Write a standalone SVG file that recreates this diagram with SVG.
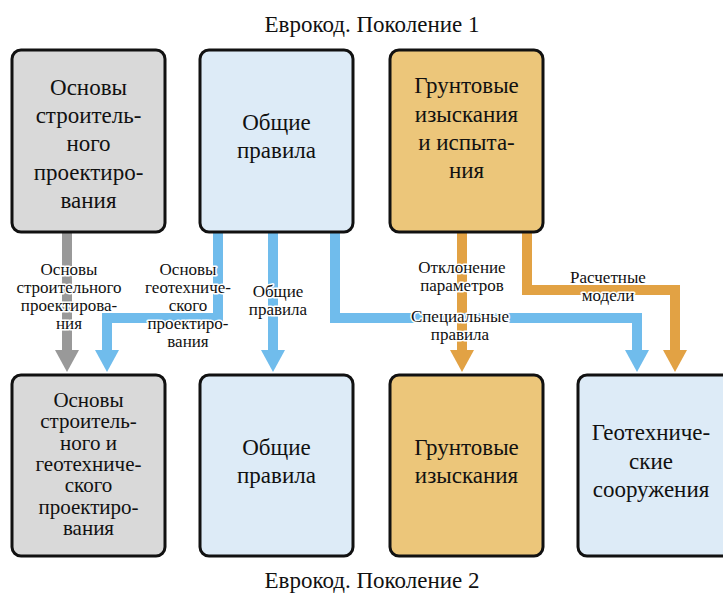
<svg xmlns="http://www.w3.org/2000/svg" width="723" height="597" viewBox="0 0 723 597">
<style>
  .box { stroke: #111; stroke-width: 3; }
  .gray { fill: #d9d9d9; }
  .blue { fill: #ddebf7; }
  .orange { fill: #ecc67a; }
  text { font-family: "Liberation Serif", "Times New Roman", serif; fill: #111; text-anchor: middle; }
  .bt { font-size: 23px; }
  .bs { font-size: 21px; }
  .title { font-size: 23px; }
  .lbl { font-size: 17px; stroke: #fff; stroke-width: 3px; paint-order: stroke; stroke-linejoin: round; }
  .c { fill: none; stroke-width: 10; stroke-linejoin: miter; }
  .cg { stroke: #999999; }
  .cb { stroke: #70bcec; }
  .co { stroke: #e2a244; }
</style>
<defs>
  <marker id="ag" markerUnits="userSpaceOnUse" markerWidth="22" markerHeight="24" viewBox="0 0 22 24" refX="1" refY="12" orient="auto"><path d="M0,0 L22,12 L0,24 z" fill="#999999"/></marker>
  <marker id="ab" markerUnits="userSpaceOnUse" markerWidth="22" markerHeight="24" viewBox="0 0 22 24" refX="1" refY="12" orient="auto"><path d="M0,0 L22,12 L0,24 z" fill="#70bcec"/></marker>
  <marker id="ao" markerUnits="userSpaceOnUse" markerWidth="22" markerHeight="24" viewBox="0 0 22 24" refX="1" refY="12" orient="auto"><path d="M0,0 L22,12 L0,24 z" fill="#e2a244"/></marker>
</defs>

<text class="title" x="372" y="32">Еврокод. Поколение 1</text>
<text class="title" x="372" y="588">Еврокод. Поколение 2</text>

<g id="connectors">
  <path class="c cg" d="M67,233 V351" marker-end="url(#ag)"/>
  <path class="c co" d="M462,233 V351" marker-end="url(#ao)"/>
  <path class="c co" d="M527,233 V290 H675 V351" marker-end="url(#ao)"/>
  <path class="c cb" d="M218,233 V318 H107 V351" marker-end="url(#ab)"/>
  <path class="c cb" d="M273,233 V351" marker-end="url(#ab)"/>
  <path class="c cb" d="M335,233 V318 H637 V351" marker-end="url(#ab)"/>
</g>

<g id="labels">
  <text class="lbl" x="69" y="275">Основы</text>
  <text class="lbl" x="69" y="293">строительного</text>
  <text class="lbl" x="69" y="311">проектирова-</text>
  <text class="lbl" x="69" y="329">ния</text>
  <text class="lbl" x="188" y="275">Основы</text>
  <text class="lbl" x="188" y="293">геотехниче-</text>
  <text class="lbl" x="188" y="311">ского</text>
  <text class="lbl" x="188" y="329">проектиро-</text>
  <text class="lbl" x="188" y="347">вания</text>
  <text class="lbl" x="278" y="297">Общие</text>
  <text class="lbl" x="278" y="315">правила</text>
  <text class="lbl" x="462" y="273">Отклонение</text>
  <text class="lbl" x="462" y="291">параметров</text>
  <text class="lbl" x="460" y="322">Специальные</text>
  <text class="lbl" x="460" y="340">правила</text>
  <text class="lbl" x="608" y="283">Расчетные</text>
  <text class="lbl" x="608" y="301">модели</text>
</g>

<g id="g1-basis">
  <rect class="box gray" x="12" y="50" width="153" height="182" rx="9"/>
  <text class="bt" x="88.5" y="95">Основы</text>
  <text class="bt" x="88.5" y="123">строитель-</text>
  <text class="bt" x="88.5" y="151">ного</text>
  <text class="bt" x="88.5" y="180">проектиро-</text>
  <text class="bt" x="88.5" y="208">вания</text>
</g>
<g id="g1-general">
  <rect class="box blue" x="200" y="50" width="153" height="182" rx="9"/>
  <text class="bt" x="276.5" y="130">Общие</text>
  <text class="bt" x="276.5" y="158">правила</text>
</g>
<g id="g1-ground">
  <rect class="box orange" x="390" y="50" width="153" height="182" rx="9"/>
  <text class="bt" x="466.5" y="93">Грунтовые</text>
  <text class="bt" x="466.5" y="122">изыскания</text>
  <text class="bt" x="466.5" y="150">и испыта-</text>
  <text class="bt" x="466.5" y="178">ния</text>
</g>

<g id="g2-basis">
  <rect class="box gray" x="12" y="375" width="153" height="181" rx="9"/>
  <text class="bs" x="88.5" y="407">Основы</text>
  <text class="bs" x="88.5" y="428">строитель-</text>
  <text class="bs" x="88.5" y="450">ного и</text>
  <text class="bs" x="88.5" y="471">геотехниче-</text>
  <text class="bs" x="88.5" y="492">ского</text>
  <text class="bs" x="88.5" y="514">проектиро-</text>
  <text class="bs" x="88.5" y="535">вания</text>
</g>
<g id="g2-general">
  <rect class="box blue" x="200" y="375" width="153" height="181" rx="9"/>
  <text class="bt" x="276.5" y="455">Общие</text>
  <text class="bt" x="276.5" y="483">правила</text>
</g>
<g id="g2-ground">
  <rect class="box orange" x="390" y="375" width="153" height="181" rx="9"/>
  <text class="bt" x="466.5" y="455">Грунтовые</text>
  <text class="bt" x="466.5" y="483">изыскания</text>
</g>
<g id="g2-geotech">
  <rect class="box blue" x="578" y="375" width="153" height="181" rx="9"/>
  <text class="bt" x="651" y="440">Геотехниче-</text>
  <text class="bt" x="651" y="469">ские</text>
  <text class="bt" x="651" y="497">сооружения</text>
</g>
</svg>
